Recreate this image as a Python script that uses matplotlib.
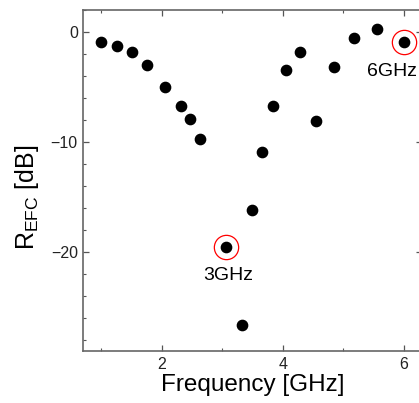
import matplotlib
matplotlib.use("Agg")
import matplotlib.pyplot as plt
from matplotlib.ticker import MultipleLocator

plt.rcParams['font.family'] = ['Liberation Sans', 'DejaVu Sans']
plt.rcParams['mathtext.fontset'] = 'custom'
plt.rcParams['mathtext.rm'] = 'Liberation Sans'
plt.rcParams['mathtext.it'] = 'Liberation Sans:italic'

freq = [1.00, 1.26, 1.51, 1.76, 2.05, 2.31, 2.46, 2.63, 3.06, 3.33,
        3.49, 3.66, 3.84, 4.05, 4.28, 4.55, 4.85, 5.18, 5.56, 6.00]
r_efc = [-0.94, -1.24, -1.82, -3.03, -5.0, -6.73, -7.88, -9.7, -19.58, -26.67,
         -16.18, -10.91, -6.76, -3.48, -1.85, -8.12, -3.18, -0.52, 0.27, -0.88]

# highlighted points
hl_freq = [3.06, 6.00]
hl_val = [-19.58, -0.88]
hl_labels = ['3GHz', '6GHz']

fig = plt.figure(figsize=(4.19, 4.03), dpi=100)
ax = fig.add_axes([0.1989, 0.129, 0.8086, 0.8462])

ax.plot(freq, r_efc, 'o', color='black', markersize=7.4, linestyle='none')
ax.plot(hl_freq, hl_val, 'o', markersize=17.5, markerfacecolor='none',
        markeredgecolor='red', markeredgewidth=0.9, linestyle='none')

# labels under the circled points
ax.text(hl_freq[0] + 0.03, hl_val[0] - 2.6, hl_labels[0], fontsize=14,
        ha='center', va='center')
ax.text(hl_freq[1] - 0.19, hl_val[1] - 2.67, hl_labels[1], fontsize=14,
        ha='center', va='center')

ax.set_xlim(0.7, 6.3)
ax.set_ylim(-29, 2)
ax.xaxis.set_major_locator(MultipleLocator(2))
ax.xaxis.set_minor_locator(MultipleLocator(1))
ax.yaxis.set_major_locator(MultipleLocator(10))
ax.yaxis.set_minor_locator(MultipleLocator(2))
ax.tick_params(which='both', direction='in', top=True, right=True,
               colors='#555555', labelcolor='#222222', labelsize=11.5, pad=4)
ax.tick_params(which='major', length=4, width=0.9)
ax.tick_params(which='minor', length=2.5, width=0.8)
for sp in ax.spines.values():
    sp.set_color('#666666')
    sp.set_linewidth(1.2)

ax.set_xlabel('Frequency [GHz]', fontsize=17.5, labelpad=2)
ax.set_ylabel(r'R$_{\mathrm{EFC}}$ [dB]', fontsize=18)
ax.yaxis.set_label_coords(-0.125, 0.45)

fig.savefig('out.png', dpi=100)
